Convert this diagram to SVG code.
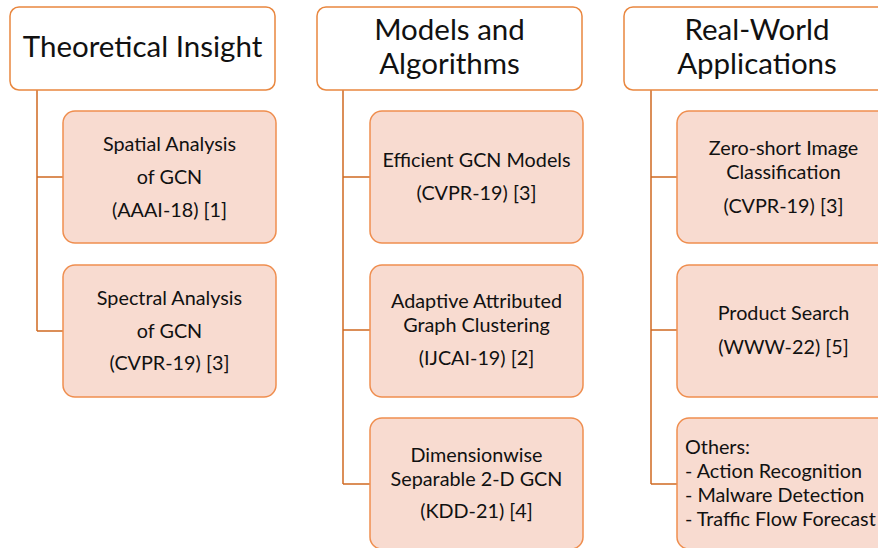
<svg xmlns="http://www.w3.org/2000/svg" width="878" height="548" viewBox="0 0 878 548">
  <style>
    .head { fill: #ffffff; stroke: #e9873f; stroke-width: 1.5; }
    .leaf { fill: #f8dbd0; stroke: #ef8e4f; stroke-width: 1.5; }
    .wire { fill: none; stroke: #d06a22; stroke-width: 1.5; }
    text { font-family: Lato, "Liberation Sans", sans-serif; fill: #111111; }
    .ht { font-size: 29.5px; text-anchor: middle; }
    .lt { font-size: 19.8px; text-anchor: middle; }
    .ll { font-size: 19.8px; }
  </style>

  <!-- tree connectors -->
  <g id="connectors">
    <path class="wire" d="M37 90 V331 M37 177 H63 M37 331 H63"/>
    <path class="wire" d="M343 90 V484 M343 177 H370 M343 330 H370 M343 484 H370"/>
    <path class="wire" d="M651 90 V484 M651 177 H677 M651 330 H677 M651 484 H677"/>
  </g>

  <!-- column 1 -->
  <g id="theoretical-insight">
    <rect class="head" x="10" y="7" width="265" height="83" rx="9"/>
    <text class="ht" x="142.5" y="57">Theoretical Insight</text>
  </g>
  <g id="spatial-analysis">
    <rect class="leaf" x="63" y="111" width="213" height="132" rx="12"/>
    <text class="lt" x="169.5" y="151">Spatial Analysis</text>
    <text class="lt" x="169.5" y="184">of GCN</text>
    <text class="lt" x="169.5" y="217">(AAAI-18) [1]</text>
  </g>
  <g id="spectral-analysis">
    <rect class="leaf" x="63" y="265" width="213" height="132" rx="12"/>
    <text class="lt" x="169.5" y="305">Spectral Analysis</text>
    <text class="lt" x="169.5" y="338">of GCN</text>
    <text class="lt" x="169.5" y="370">(CVPR-19) [3]</text>
  </g>

  <!-- column 2 -->
  <g id="models-algorithms">
    <rect class="head" x="317" y="7" width="265" height="83" rx="9"/>
    <text class="ht" x="449.5" y="40">Models and</text>
    <text class="ht" x="449.5" y="74">Algorithms</text>
  </g>
  <g id="efficient-gcn">
    <rect class="leaf" x="370" y="111" width="213" height="132" rx="12"/>
    <text class="lt" x="476.5" y="167">Efficient GCN Models</text>
    <text class="lt" x="476.5" y="200">(CVPR-19) [3]</text>
  </g>
  <g id="adaptive-clustering">
    <rect class="leaf" x="370" y="265" width="213" height="132" rx="12"/>
    <text class="lt" x="476.5" y="308">Adaptive Attributed</text>
    <text class="lt" x="476.5" y="332">Graph Clustering</text>
    <text class="lt" x="476.5" y="365">(IJCAI-19) [2]</text>
  </g>
  <g id="dimensionwise-gcn">
    <rect class="leaf" x="370" y="418" width="213" height="131" rx="12"/>
    <text class="lt" x="476.5" y="462">Dimensionwise</text>
    <text class="lt" x="476.5" y="486">Separable 2-D GCN</text>
    <text class="lt" x="476.5" y="518">(KDD-21) [4]</text>
  </g>

  <!-- column 3 -->
  <g id="real-world-applications">
    <rect class="head" x="624" y="7" width="266" height="83" rx="9"/>
    <text class="ht" x="757" y="40">Real-World</text>
    <text class="ht" x="757" y="74">Applications</text>
  </g>
  <g id="zero-shot">
    <rect class="leaf" x="677" y="111" width="213" height="132" rx="12"/>
    <text class="lt" x="783.5" y="155">Zero-short Image</text>
    <text class="lt" x="783.5" y="179">Classification</text>
    <text class="lt" x="783.5" y="213">(CVPR-19) [3]</text>
  </g>
  <g id="product-search">
    <rect class="leaf" x="677" y="265" width="213" height="132" rx="12"/>
    <text class="lt" x="783.5" y="320">Product Search</text>
    <text class="lt" x="783.5" y="354">(WWW-22) [5]</text>
  </g>
  <g id="others">
    <rect class="leaf" x="677" y="418" width="213" height="131" rx="12"/>
    <text class="ll" x="685" y="454">Others:</text>
    <text class="ll" x="685" y="478">- Action Recognition</text>
    <text class="ll" x="685" y="502">- Malware Detection</text>
    <text class="ll" x="685" y="526">- Traffic Flow Forecast</text>
  </g>
</svg>
